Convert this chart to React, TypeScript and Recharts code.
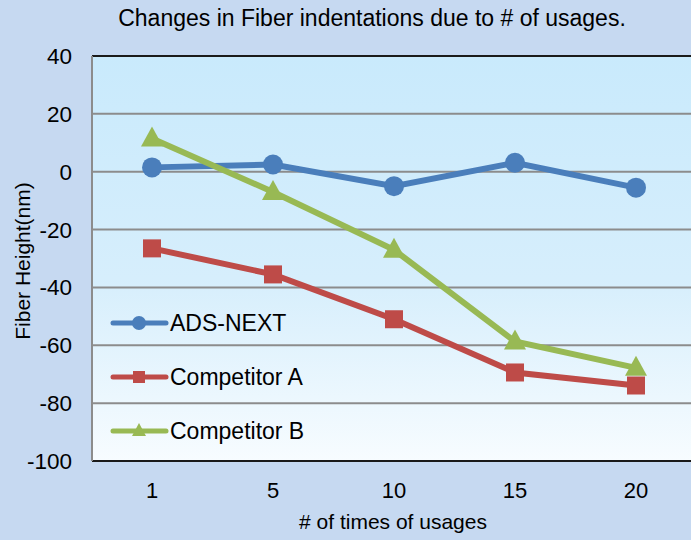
import { CartesianGrid, Line, LineChart, ReferenceLine, XAxis, YAxis } from "recharts";

const usages = ["1", "5", "10", "15", "20"];
const adsNext = [1.5, 2.5, -5, 3.1, -5.5];
const competitorA = [-26.5, -35.5, -51, -69.4, -73.9];
const competitorB = [11.5, -7, -27, -58.7, -67.8];
const yTicks = [-100, -80, -60, -40, -20, 0, 20, 40];

const data = usages.map((u, i) => ({
  usage: u,
  ads: adsNext[i],
  a: competitorA[i],
  b: competitorB[i],
}));

const BLUE = "#4a7ebb";
const RED = "#be4b48";
const GREEN = "#98b954";
const FONT = "'Liberation Sans', Arial, sans-serif";

type DotProps = { cx?: number; cy?: number; index?: number };

const circleDot = ({ cx, cy, index }: DotProps) => (
  <circle key={`c${index}`} cx={cx} cy={cy} r={10} fill={BLUE} />
);
const squareDot = ({ cx, cy, index }: DotProps) => (
  <rect key={`s${index}`} x={(cx ?? 0) - 9} y={(cy ?? 0) - 9} width={18} height={18} fill={RED} />
);
const triangleDot = ({ cx, cy, index }: DotProps) => {
  const x = cx ?? 0;
  const y = cy ?? 0;
  return (
    <path key={`t${index}`} d={`M${x},${y - 12} L${x + 11},${y + 8} L${x - 11},${y + 8} Z`} fill={GREEN} />
  );
};

const legendItems = [
  { name: "ADS-NEXT", color: BLUE, marker: "circle" },
  { name: "Competitor A", color: RED, marker: "square" },
  { name: "Competitor B", color: GREEN, marker: "triangle" },
];

// legend sits inside the plot, lower left, like the original
function ChartLegend() {
  return (
    <div style={{ position: "absolute", left: 110, top: 296, fontFamily: FONT }}>
      {legendItems.map((item) => (
        <div key={item.name} style={{ display: "flex", alignItems: "center", height: 54 }}>
          <svg width={60} height={24}>
            <line x1={3} y1={12} x2={56} y2={12} stroke={item.color} strokeWidth={5} strokeLinecap="round" />
            {item.marker === "circle" && <circle cx={29} cy={12} r={7} fill={item.color} />}
            {item.marker === "square" && <rect x={23} y={6} width={12} height={12} fill={item.color} />}
            {item.marker === "triangle" && <path d="M29,4 L36,17 L22,17 Z" fill={item.color} />}
          </svg>
          <span style={{ fontSize: 23, color: "#000" }}>{item.name}</span>
        </div>
      ))}
    </div>
  );
}

export default function App() {
  return (
    <div
      style={{
        position: "absolute",
        left: 0,
        top: 0,
        width: 691,
        height: 540,
        overflow: "hidden",
        background: "#c6d9f1",
        fontFamily: FONT,
      }}
    >
      <div
        style={{
          position: "absolute",
          top: 5,
          left: 0,
          width: 744,
          textAlign: "center",
          fontSize: 23,
          color: "#000",
        }}
      >
        Changes in Fiber indentations due to # of usages.
      </div>
      <div
        style={{
          position: "absolute",
          top: 510,
          left: 0,
          width: 786,
          textAlign: "center",
          fontSize: 21,
          color: "#000",
        }}
      >
        # of times of usages
      </div>
      <div
        style={{
          position: "absolute",
          left: 23,
          top: 261,
          transform: "translate(-50%, -50%) rotate(-90deg)",
          whiteSpace: "nowrap",
          fontSize: 21,
          color: "#000",
        }}
      >
        Fiber Height(nm)
      </div>
      <LineChart
        width={696}
        height={540}
        data={data}
        margin={{ top: 56, right: 0, bottom: 0, left: 0 }}
        style={{ position: "absolute", left: 0, top: 0 }}
      >
        <defs>
          <linearGradient id="plotBg" x1="0" y1="0" x2="0" y2="1">
            <stop offset="0%" stopColor="#c9eafc" />
            <stop offset="55%" stopColor="#d6eefc" />
            <stop offset="100%" stopColor="#f7fcff" />
          </linearGradient>
        </defs>
        <CartesianGrid vertical={false} stroke="#8c8c8c" strokeWidth={2} fill="url(#plotBg)" fillOpacity={1} />
        <XAxis
          dataKey="usage"
          height={79}
          padding={{ left: 60, right: 60 }}
          axisLine={{ stroke: "#1a1a1a", strokeWidth: 2 }}
          tickLine={false}
          tickSize={6}
          tickMargin={15}
          tick={{ fontSize: 22, fill: "#000", fontFamily: FONT }}
        />
        <YAxis
          width={92}
          domain={[-100, 40]}
          ticks={yTicks}
          interval={0}
          axisLine={{ stroke: "#8c8c8c", strokeWidth: 2 }}
          tickLine={false}
          tickSize={6}
          tickMargin={14}
          tick={{ fontSize: 22.5, fill: "#000", fontFamily: FONT }}
        />
        <ReferenceLine y={40} stroke="#1a1a1a" strokeWidth={2} />
        <Line
          dataKey="ads"
          name="ADS-NEXT"
          stroke={BLUE}
          strokeWidth={6}
          dot={circleDot}
          activeDot={false}
          isAnimationActive={false}
        />
        <Line
          dataKey="a"
          name="Competitor A"
          stroke={RED}
          strokeWidth={6}
          dot={squareDot}
          activeDot={false}
          isAnimationActive={false}
        />
        <Line
          dataKey="b"
          name="Competitor B"
          stroke={GREEN}
          strokeWidth={6}
          dot={triangleDot}
          activeDot={false}
          isAnimationActive={false}
        />
      </LineChart>
      <ChartLegend />
    </div>
  );
}
